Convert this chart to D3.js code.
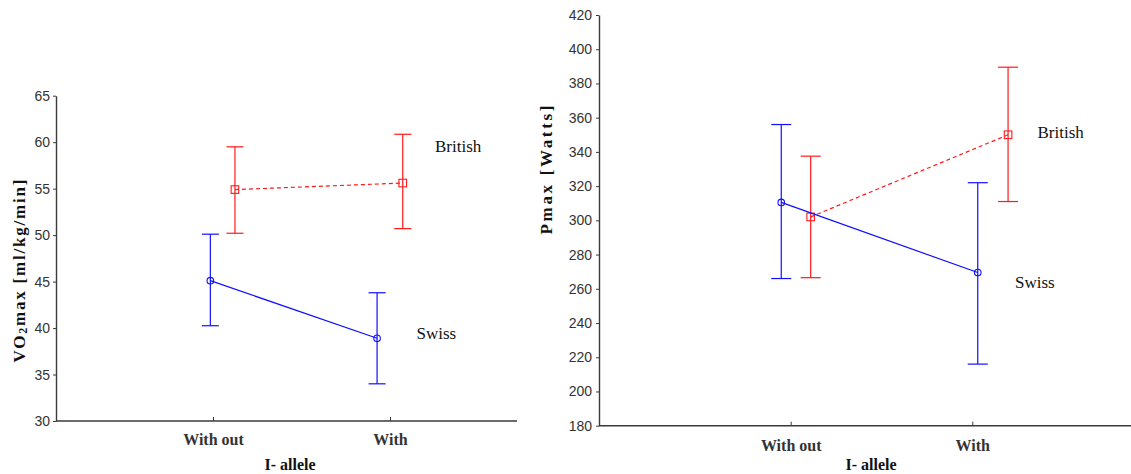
<!DOCTYPE html>
<html>
<head>
<meta charset="utf-8">
<script src="https://cdn.jsdelivr.net/npm/d3@7"></script>
<style>
  html, body { margin: 0; padding: 0; background: #fff; }
  svg { display: block; }
  .tick text { font-family: "Liberation Sans", Arial, sans-serif; fill: #333; }
</style>
</head>
<body>
<svg id="chart" width="1131" height="474"></svg>
<script>
// Categories on the x axis
const categories = ["With out", "With"];
const categoryPos = [1, 2];

// VO2max panel
const vo2Ticks = [30, 35, 40, 45, 50, 55, 60, 65];
const swissVO2X = [0.985, 1.927];
const swissVO2Mean = [45.1, 38.9];
const swissVO2Lo = [40.25, 34.0];
const swissVO2Hi = [50.1, 43.8];
const britishVO2X = [1.124, 2.072];
const britishVO2Mean = [54.9, 55.6];
const britishVO2Lo = [50.2, 50.7];
const britishVO2Hi = [59.5, 60.85];

// Pmax panel
const pmaxTicks = [180, 200, 220, 240, 260, 280, 300, 320, 340, 360, 380, 400, 420];
const swissPmaxX = [0.948, 2.03];
const swissPmaxMean = [310.5, 269.5];
const swissPmaxLo = [266, 216];
const swissPmaxHi = [356, 322];
const britishPmaxX = [1.11, 2.197];
const britishPmaxMean = [302, 350];
const britishPmaxLo = [266.5, 311];
const britishPmaxHi = [337.5, 389.5];

const BLUE = "#1010ff", RED = "#ff1a1a", AXIS = "#3a3a3a";
const svg = d3.select("#chart");

function series(x, mean, lo, hi) {
  return x.map((v, i) => ({ x: v, m: mean[i], lo: lo[i], hi: hi[i] }));
}

function drawPanel(cfg) {
  const g = svg.append("g");
  const x = d3.scaleLinear().domain([1, 2]).range(cfg.xTickPx);
  const y = d3.scaleLinear().domain(cfg.yDomain).range(cfg.yRange);

  // y axis
  const ya = g.append("g").attr("transform", `translate(${cfg.axisX},0)`)
    .call(d3.axisLeft(y).tickValues(cfg.yTicks).tickSize(3).tickSizeOuter(0).tickPadding(cfg.yPad));
  ya.select(".domain").attr("stroke", AXIS).attr("stroke-width", 1.4);
  ya.selectAll(".tick line").attr("stroke", AXIS);
  ya.selectAll(".tick text").attr("font-size", 14);

  // x axis
  const xa = g.append("g").attr("transform", `translate(0,${cfg.yRange[0]})`)
    .call(d3.axisBottom(x).tickValues(categoryPos).tickFormat((d, i) => categories[i])
      .tickSize(-4).tickSizeOuter(0).tickPadding(cfg.xPad));
  xa.select(".domain").remove();
  xa.append("line").attr("x1", cfg.axisX).attr("x2", cfg.xEnd).attr("y1", 0).attr("y2", 0)
    .attr("stroke", AXIS).attr("stroke-width", 1.4);
  xa.selectAll(".tick line").attr("stroke", AXIS);
  xa.selectAll(".tick text")
    .style("font-family", '"Liberation Serif", "Times New Roman", serif')
    .attr("font-weight", "bold").attr("font-size", 16).attr("fill", "#111");

  // axis titles
  g.append("text").attr("x", cfg.xTitle[0]).attr("y", cfg.xTitle[1])
    .attr("text-anchor", "middle").attr("dominant-baseline", "central")
    .style("font-family", '"Liberation Serif", "Times New Roman", serif')
    .attr("font-weight", "bold").attr("font-size", 16).attr("fill", "#111")
    .text("I- allele");
  const yt = g.append("text")
    .attr("transform", `translate(${cfg.yTitle[0]},${cfg.yTitle[1]}) rotate(-90)`)
    .attr("text-anchor", "middle").attr("dominant-baseline", "central")
    .style("font-family", '"Liberation Serif", "Times New Roman", serif')
    .attr("font-weight", "bold").attr("font-size", 17).attr("fill", "#111")
    .attr("textLength", cfg.yTitleLen).attr("lengthAdjust", "spacing");
  cfg.yTitleParts.forEach(p => {
    const t = yt.append("tspan").text(p.t);
    if (p.sub) t.attr("font-size", 12).attr("dy", 4);
    if (p.up) t.attr("dy", -4);
  });

  // series
  cfg.series.forEach(s => {
    const sg = g.append("g").attr("stroke", s.color).attr("fill", "none");
    sg.append("path")
      .attr("d", d3.line().x(d => x(d.x)).y(d => y(d.m))(s.data))
      .attr("stroke-width", 1.2)
      .attr("stroke-dasharray", s.dashed ? "4,3" : null);
    const eb = sg.selectAll(".eb").data(s.data).join("g");
    eb.append("line").attr("x1", d => x(d.x)).attr("x2", d => x(d.x))
      .attr("y1", d => y(d.lo)).attr("y2", d => y(d.hi)).attr("stroke-width", 1.2);
    [d => d.lo, d => d.hi].forEach(acc => {
      eb.append("line").attr("x1", d => x(d.x) - cfg.cap).attr("x2", d => x(d.x) + cfg.cap)
        .attr("y1", d => y(acc(d))).attr("y2", d => y(acc(d))).attr("stroke-width", 1.2);
    });
    if (s.marker === "circle") {
      eb.append("circle").attr("cx", d => x(d.x)).attr("cy", d => y(d.m)).attr("r", 3.3)
        .attr("stroke-width", 1.1);
    } else {
      eb.append("rect").attr("x", d => x(d.x) - 3.8).attr("y", d => y(d.m) - 3.8)
        .attr("width", 7.6).attr("height", 7.6).attr("stroke-width", 1.1);
    }
    g.append("text").attr("x", s.label[0]).attr("y", s.label[1])
      .attr("dominant-baseline", "central")
      .style("font-family", '"Liberation Serif", "Times New Roman", serif')
      .attr("font-size", 17).attr("fill", "#111").text(s.name);
  });
}

drawPanel({
  axisX: 56, xEnd: 517, xTickPx: [213, 390],
  yDomain: [30, 65], yRange: [421, 95.7], yTicks: vo2Ticks, yPad: 3, xPad: 13,
  cap: 8.5,
  xTitle: [290, 464],
  yTitle: [19, 271], yTitleLen: 183,
  yTitleParts: [{ t: "VO" }, { t: "2", sub: true }, { t: "max [ml/kg/min]", up: true }],
  series: [
    { name: "British", color: RED, dashed: true, marker: "square", label: [435, 146],
      data: series(britishVO2X, britishVO2Mean, britishVO2Lo, britishVO2Hi) },
    { name: "Swiss", color: BLUE, dashed: false, marker: "circle", label: [416.5, 333],
      data: series(swissVO2X, swissVO2Mean, swissVO2Lo, swissVO2Hi) }
  ]
});

drawPanel({
  axisX: 599, xEnd: 1131, xTickPx: [790.7, 972.3],
  yDomain: [180, 420], yRange: [425.7, 15], yTicks: pmaxTicks, yPad: 4, xPad: 14,
  cap: 10,
  xTitle: [871, 464],
  yTitle: [546, 170], yTitleLen: 129,
  yTitleParts: [{ t: "Pmax [Watts]" }],
  series: [
    { name: "British", color: RED, dashed: true, marker: "square", label: [1037.5, 132],
      data: series(britishPmaxX, britishPmaxMean, britishPmaxLo, britishPmaxHi) },
    { name: "Swiss", color: BLUE, dashed: false, marker: "circle", label: [1015, 282],
      data: series(swissPmaxX, swissPmaxMean, swissPmaxLo, swissPmaxHi) }
  ]
});
</script>
</body>
</html>
